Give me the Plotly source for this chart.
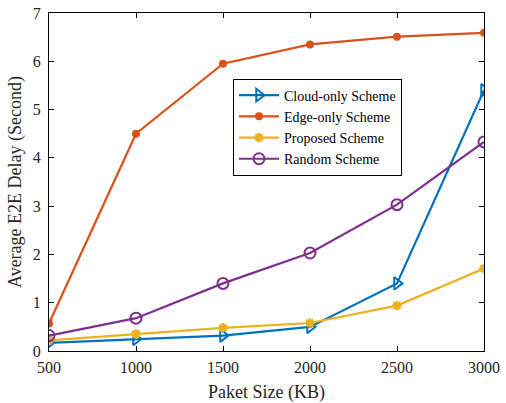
import plotly.graph_objects as go

packet_size = [500, 1000, 1500, 2000, 2500, 3000]
cloud_only = [0.17, 0.25, 0.32, 0.50, 1.40, 5.40]
edge_only = [0.57, 4.50, 5.95, 6.35, 6.51, 6.59]
proposed = [0.22, 0.35, 0.48, 0.58, 0.94, 1.71]
random_scheme = [0.32, 0.68, 1.40, 2.03, 3.03, 4.33]

x_ticks = [500, 1000, 1500, 2000, 2500, 3000]
y_ticks = [0, 1, 2, 3, 4, 5, 6, 7]

fig = go.Figure()
fig.add_trace(go.Scatter(x=packet_size, y=cloud_only, mode="lines+markers", name="Cloud-only Scheme",
                         line=dict(color="#0072BD", width=2.2),
                         marker=dict(symbol="triangle-right-open", size=11, line=dict(width=2, color="#0072BD"))))
fig.add_trace(go.Scatter(x=packet_size, y=edge_only, mode="lines+markers", name="Edge-only Scheme",
                         line=dict(color="#D95319", width=2.2),
                         marker=dict(symbol="circle", size=8, color="#D95319")))
fig.add_trace(go.Scatter(x=packet_size, y=proposed, mode="lines+markers", name="Proposed Scheme",
                         line=dict(color="#EDB120", width=2.2),
                         marker=dict(symbol="asterisk-open", size=8, line=dict(width=2.5, color="#EDB120"))))
fig.add_trace(go.Scatter(x=packet_size, y=random_scheme, mode="lines+markers", name="Random Scheme",
                         line=dict(color="#7E2F8E", width=2.2),
                         marker=dict(symbol="circle-open", size=11, line=dict(width=2, color="#7E2F8E"))))

axis_common = dict(showline=True, linecolor="black", linewidth=1, mirror="ticks", ticks="inside",
                   ticklen=5, tickcolor="black", showgrid=False, zeroline=False, automargin=False,
                   tickfont=dict(family="Liberation Serif", size=16, color="#262626"))

fig.update_xaxes(range=[500, 3000], tickvals=x_ticks, ticklabelstandoff=2,
                 title=dict(text="Paket Size (KB)", font=dict(family="Liberation Serif", size=18, color="#262626"), standoff=11),
                 **axis_common)
fig.update_yaxes(range=[0, 7], tickvals=y_ticks, ticklabelstandoff=4,
                 title=dict(text="Average E2E Delay (Second)", font=dict(family="Liberation Serif", size=18, color="#262626"), standoff=6),
                 **axis_common)

fig.update_layout(
    width=506, height=403,
    margin=dict(l=49, r=22, t=13, b=52, autoexpand=False),
    plot_bgcolor="white", paper_bgcolor="white",
    font=dict(family="Liberation Serif", color="black"),
    legend=dict(x=0.423, y=0.806, xanchor="left", yanchor="top",
                bgcolor="white", bordercolor="black", borderwidth=1,
                font=dict(family="Liberation Serif", size=14, color="black"),
                tracegroupgap=0, itemwidth=40),
)

fig.write_html("out.html", config={"displayModeBar": False},
               post_script="document.body.style.margin='0';")
